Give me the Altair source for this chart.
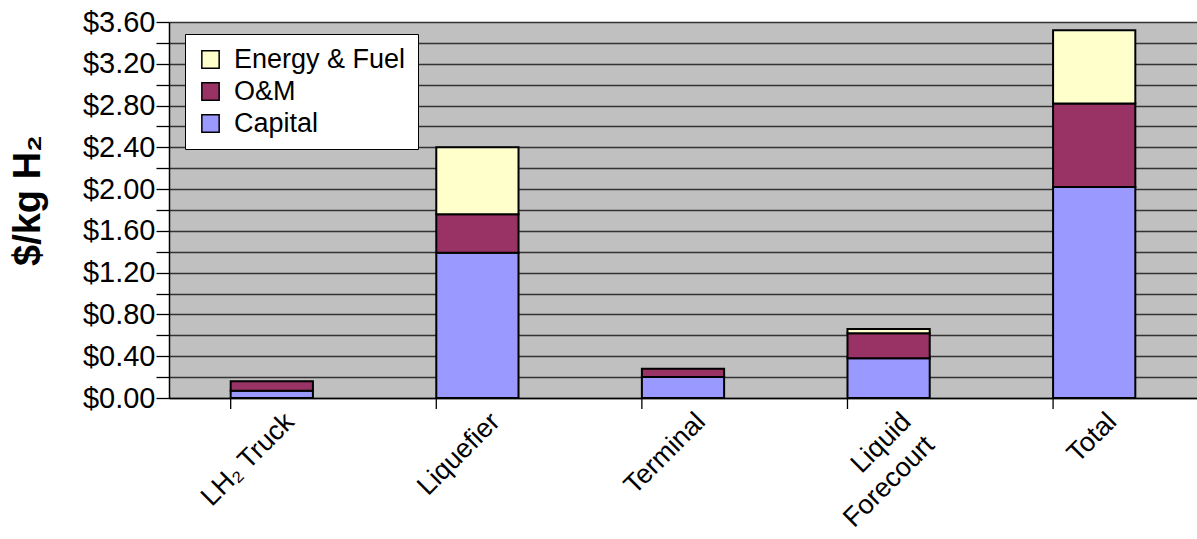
import altair as alt
import pandas as pd

FONT = "Liberation Sans"

# Cost components per delivery step ($ per kg of hydrogen)
categories = ["LH₂ Truck", "Liquefier", "Terminal", "Liquid Forecourt", "Total"]
capital = [0.07, 1.39, 0.20, 0.38, 2.02]
o_and_m = [0.09, 0.37, 0.08, 0.24, 0.80]
energy_fuel = [0.0, 0.64, 0.0, 0.04, 0.70]

series_names = ["Energy & Fuel", "O&M", "Capital"]
series_colors = ["#FFFFCC", "#993366", "#9999FF"]
stack_rank = {"Capital": 0, "O&M": 1, "Energy & Fuel": 2}

y_ticks = [0.0, 0.2, 0.4, 0.6, 0.8, 1.0, 1.2, 1.4, 1.6, 1.8,
           2.0, 2.2, 2.4, 2.6, 2.8, 3.0, 3.2, 3.4, 3.6]

rows = []
for name, values in (("Capital", capital), ("O&M", o_and_m), ("Energy & Fuel", energy_fuel)):
    for cat, v in zip(categories, values):
        rows.append({"category": cat, "series": name, "value": v, "rank": stack_rank[name]})
df = pd.DataFrame(rows)
cat_df = pd.DataFrame({"category": categories})

x_scale = alt.Scale(paddingInner=0.6, paddingOuter=0.3)

bars = alt.Chart(df).transform_filter("datum.value > 0").mark_bar(
    stroke="black", strokeWidth=2
).encode(
    x=alt.X(
        "category:N", sort=categories, scale=x_scale,
        axis=alt.Axis(
            title=None, orient="bottom", ticks=False, grid=False,
            domain=True, domainColor="black", domainWidth=1.5,
            labelAngle=315, labelAlign="right", labelBaseline="top",
            labelFontSize=27, labelFont=FONT, labelColor="black",
            labelPadding=10, labelOffset=9, labelLineHeight=33,
            labelExpr="datum.label == 'Liquid Forecourt' ? ['Liquid', 'Forecourt'] : datum.label",
        ),
    ),
    y=alt.Y(
        "value:Q", stack="zero",
        scale=alt.Scale(domain=[0, 3.6], nice=False),
        axis=alt.Axis(
            values=y_ticks,
            labelExpr="round(datum.value * 10) % 4 == 0 ? format(datum.value, '$.2f') : ''",
            grid=True, gridColor="#333333", gridWidth=1.3,
            tickSize=13, tickColor="black", tickWidth=1.3,
            domainColor="black", domainWidth=1.5,
            labelFontSize=29, labelFont=FONT, labelColor="black", labelPadding=1,
            labelFlush=False, labelOverlap=False,
            title="$/kg H₂", titleFont=FONT, titleFontSize=38, titleFontWeight="bold",
            titleColor="black", titleX=-141, titleY=178, titleAngle=270,
            titleAlign="center", titleBaseline="middle",
        ),
    ),
    color=alt.Color(
        "series:N",
        scale=alt.Scale(domain=series_names, range=series_colors),
        legend=alt.Legend(
            title=None, orient="none", legendX=16, legendY=12,
            fillColor="white", strokeColor="black", padding=12,
            symbolType="square", symbolSize=300, symbolStrokeColor="black",
            symbolStrokeWidth=1.5, symbolOffset=0,
            labelFontSize=27, labelFont=FONT, labelColor="black", labelLimit=400,
            rowPadding=4, labelOffset=10,
        ),
    ),
    order=alt.Order("rank:Q"),
)

# Category separator ticks hanging below the baseline at each band edge
separators = alt.Chart(cat_df).mark_rule(color="black", strokeWidth=1.3).encode(
    x=alt.X("category:N", sort=categories, scale=x_scale, bandPosition=0),
    y=alt.value(376),
    y2=alt.value(387),
)

chart = alt.layer(bars, separators).properties(
    width=1028, height=376,
    autosize=alt.AutoSizeParams(type="none"),
    padding={"left": 169, "top": 22, "right": 0, "bottom": 141},
    background="white",
).configure_view(fill="#C0C0C0", strokeWidth=0)

chart.save("out.html", embed_options={"renderer": "svg", "actions": False})
